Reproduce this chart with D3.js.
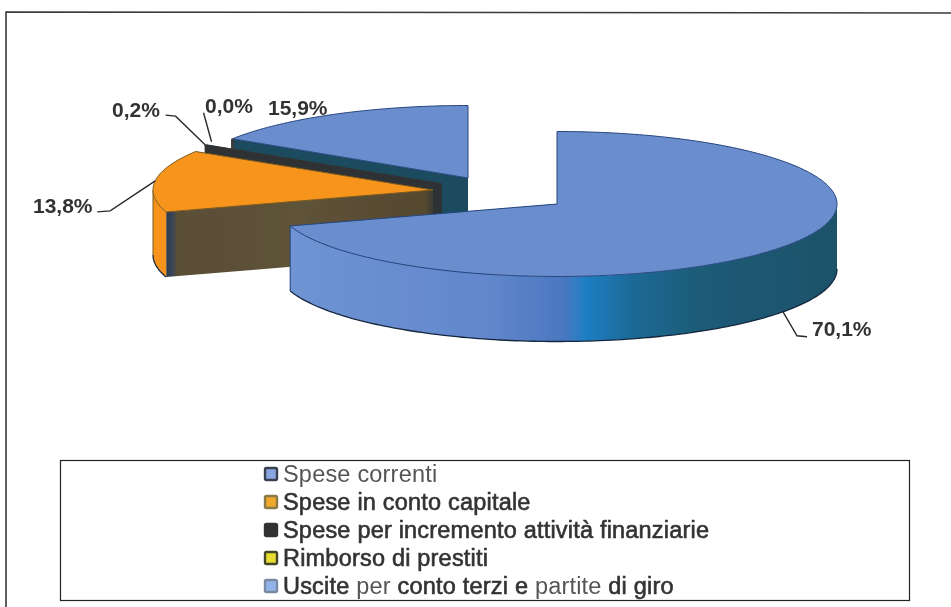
<!DOCTYPE html>
<html><head><meta charset="utf-8">
<script src="https://cdnjs.cloudflare.com/ajax/libs/d3/7.8.5/d3.min.js"></script>
<style>html,body{margin:0;padding:0;background:#fff}svg{display:block}text{font-family:"Liberation Sans",Arial,sans-serif}</style>
</head><body><svg id="c" width="951" height="607"></svg>
<script>
const categories = ["Spese correnti","Spese in conto capitale","Spese per incremento attività finanziarie","Rimborso di prestiti","Uscite per conto terzi e partite di giro"];
const values = [70.1,13.8,0.2,0.0,15.9];
const valueLabels = ["70,1%","13,8%","0,2%","0,0%","15,9%"];

// layout and styling
const W=951,H=607,rx=280,ry=72.5,depth=65;
const centers=[[557,204],[433,190],[442,184],[447,181],[468,178]];
const topFill=["#6a8ecd","#f7941f","#3a3a3c","#e8dc30","#6a8ecd"];
const faceFill=["#1d5570","url(#brown)","#2e3034","#8c8420","#1b4c5e"];
const wallFill=["url(#bigWall)","#f7931e","#343436","#c8bc20","#1b4c5e"];
const edge=["#27457f","#7a5a20","#333","#555","#27457f"];
const swatch=["#8aa6e0","#f0a82c","#333333","#e8dc30","#93b4ea"];
const swatchBorder=["#3a3f50","#8a7a4a","#333333","#44442a","#7a8aa0"];
const lightWords=[[0,1],[],[],[],[1,5]];
const labelPos=[
 {lead:[[14,24],[24,25]],text:[812,336]},
 {lead:[[-45,30],[-58,31]],text:[33,213]},
 {lead:[[-30,-29],[-40,-30]],text:[112,117]},
 {lead:[[-8,-29]],text:[205,113]},
 {lead:null,text:[268,115]}
];

const svg=d3.select("#c");
const defs=svg.append("defs");
function grad(id,stops){
 const g=defs.append("linearGradient").attr("id",id);
 stops.forEach(s=>g.append("stop").attr("offset",s[0]).attr("stop-color",s[1]));
}
grad("bigWall",[[0,"#6f94d3"],[.36,"#6287cc"],[.5,"#4a77c0"],[.54,"#1f7fc4"],[.62,"#1f6a98"],[.75,"#1c5b76"],[1,"#1b5269"]]);
grad("brown",[[0,"#2a3a4a"],[.025,"#3c4658"],[.04,"#5a4f36"],[.5,"#5e5238"],[.97,"#55492f"],[1,"#3a3a30"]]);
defs.append("filter").attr("id","scan").append("feGaussianBlur").attr("stdDeviation",0.5);

const root=svg.append("g").attr("filter","url(#scan)");
root.append("rect").attr("width",W).attr("height",H).attr("fill","#fff");

const pie=d3.pie().sort(null).startAngle(0).endAngle(2*Math.PI);
const arcs=pie(values);
const sx=(i,a)=>centers[i][0]+rx*Math.sin(a);
const sy=(i,a)=>centers[i][1]-ry*Math.cos(a);
const line=d3.line();
function arcPts(i,a0,a1,dy=0){
 const n=Math.max(2,Math.ceil(Math.abs(a1-a0)/0.02));
 return d3.range(n+1).map(k=>{const a=a0+(a1-a0)*k/n;return [sx(i,a),sy(i,a)+dy];});
}
function face(i,a){
 const c=centers[i];
 return line([[sx(i,a),sy(i,a)],c,[c[0],c[1]+depth],[sx(i,a),sy(i,a)+depth]])+"Z";
}
[4,3,2,1,0].forEach(i=>{
 const d=arcs[i];
 if(values[i]===0) return;
 const g=root.append("g");
 [d.endAngle,d.startAngle].forEach(a=>{
  g.append("path").attr("d",face(i,a)).attr("fill",faceFill[i]);
 });
 const lo=Math.max(d.startAngle,Math.PI/2),hi=Math.min(d.endAngle,1.5*Math.PI);
 if(hi>lo){
  const pts=arcPts(i,lo,hi).concat(arcPts(i,hi,lo,depth));
  g.append("path").attr("d",line(pts)+"Z").attr("fill",wallFill[i]);
  g.append("path").attr("d",line(arcPts(i,lo,hi,depth))).attr("fill","none").attr("stroke","#16283f").attr("stroke-width",1.3);
  g.append("path").attr("d",line([[sx(i,hi),sy(i,hi)],[sx(i,hi),sy(i,hi)+depth]])).attr("stroke",edge[i]).attr("stroke-width",1);
 }
 const top=[centers[i]].concat(arcPts(i,d.startAngle,d.endAngle));
 g.append("path").attr("d",line(top)+"Z").attr("fill",topFill[i]).attr("stroke",edge[i]).attr("stroke-width",1);
 if(i===4){
  g.append("path").attr("d",line([[sx(i,d.startAngle),sy(i,d.startAngle)],[sx(i,d.startAngle),sy(i,d.startAngle)+depth/3]]))
   .attr("stroke","#3a3a3c").attr("stroke-width",3);
 }
});

// leaders and value labels
arcs.forEach((d,i)=>{
 const mid=(d.startAngle+d.endAngle)/2;
 const a=[sx(i,mid),sy(i,mid)+(i===0?depth:0)];
 const p=labelPos[i];
 if(p.lead){
  root.append("path").attr("d",line([a].concat(p.lead.map(o=>[a[0]+o[0],a[1]+o[1]]))))
   .attr("fill","none").attr("stroke","#2a2a2a").attr("stroke-width",1.4);
 }
 root.append("text").attr("x",p.text[0]).attr("y",p.text[1]).text(valueLabels[i])
  .attr("font-size",21).attr("font-weight",700).attr("fill","#333");
});

// frame
root.append("path").attr("d",line([[6,H],[6,12],[W,13]])).attr("fill","none").attr("stroke","#3a3a3a").attr("stroke-width",1.6);

// legend
root.append("rect").attr("x",60.5).attr("y",460.5).attr("width",849).attr("height",140).attr("fill","#fff").attr("stroke","#222").attr("stroke-width",1.2);
const yL=d3.scalePoint().domain(categories).range([482,594]);
categories.forEach((c,i)=>{
 const y=yL(c);
 root.append("rect").attr("x",265).attr("y",y-14).attr("width",12).attr("height",12).attr("rx",1.5)
  .attr("fill",swatch[i]).attr("stroke",swatchBorder[i]).attr("stroke-width",2.4);
 const t=root.append("text").attr("x",283).attr("y",y).attr("font-size",23.5).attr("letter-spacing",0.2);
 c.split(" ").forEach((w,k,all)=>{
  const light=lightWords[i].includes(k);
  t.append("tspan").text(w+(k<all.length-1?" ":""))
   .attr("fill",light?"#555":"#333").attr("stroke",light?"none":"#333").attr("stroke-width",light?0:0.6);
 });
});
</script></body></html>
